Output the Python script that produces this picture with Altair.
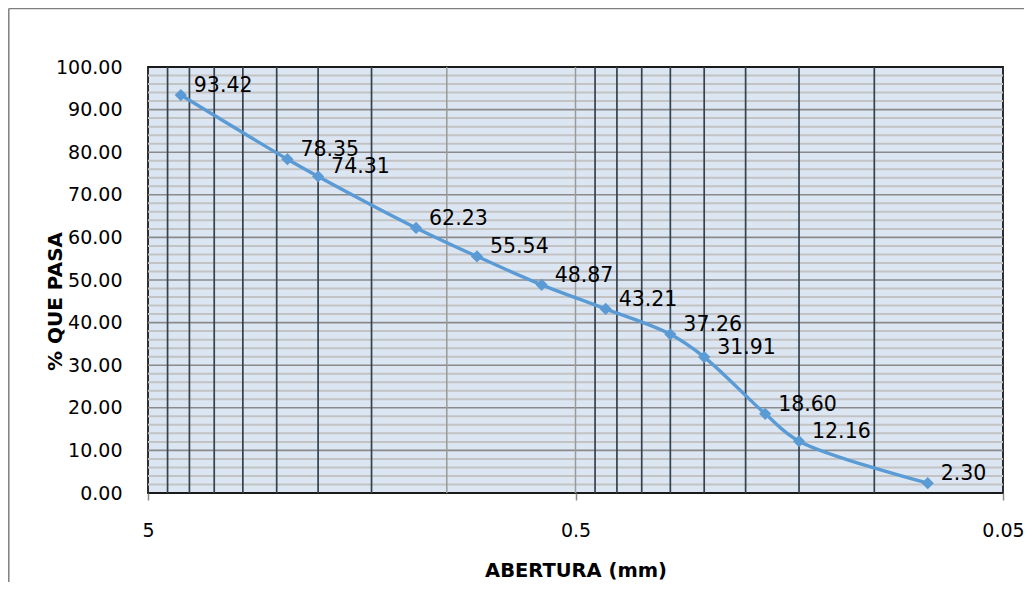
import altair as alt
import pandas as pd

# Data
abertura = [4.19, 2.36, 2.00, 1.18, 0.85, 0.60, 0.425, 0.30, 0.25, 0.18, 0.15, 0.075]
pasa = [93.42, 78.35, 74.31, 62.23, 55.54, 48.87, 43.21, 37.26, 31.91, 18.60, 12.16, 2.30]

x_ticks = [5, 0.5, 0.05]
y_ticks = [0, 10, 20, 30, 40, 50, 60, 70, 80, 90, 100]
y_minor = [v for v in range(2, 100, 2) if v % 10 != 0]
y_major = [10, 20, 30, 40, 50, 60, 70, 80, 90]
x_minor_dark = [4.5, 4.0, 3.5, 3.0, 2.5, 2.0, 1.5, 0.45, 0.40, 0.35, 0.30, 0.25, 0.20, 0.15, 0.10]
x_minor_gray = [1.0, 0.5]

W, H = 855, 426
FONT = "DejaVu Sans"
BOTTOM = 89

df = pd.DataFrame({"d": abertura, "p": pasa, "lbl": [f"{v:.2f}" for v in pasa]})

xs = alt.Scale(type="log", domain=[0.05, 5], reverse=True, nice=False)
ys = alt.Scale(domain=[0, 100], nice=False, zero=False)

xaxis = alt.Axis(
    values=x_ticks, format="~g", title="ABERTURA (mm)", grid=False, domain=False,
    ticks=True, tickSize=7, tickColor="#8a8a8a", tickWidth=1.5,
    labelFont=FONT, labelFontSize=19, labelColor="#000", labelPadding=30,
    labelBaseline="middle", labelFlush=False,
    titleFont=FONT, titleFontSize=19.5, titleFontWeight="bold", titleColor="#000",
    titleX=W / 2, titleY=77, titleBaseline="middle", titleAlign="center")
yaxis = alt.Axis(
    values=y_ticks, format=".2f", title="% QUE PASA", grid=False, domain=False,
    ticks=False, labelFont=FONT, labelFontSize=19, labelColor="#000", labelPadding=26,
    labelFlush=False,
    titleFont=FONT, titleFontSize=20, titleFontWeight="bold", titleColor="#000",
    titleAngle=270, titleX=-93, titleY=234, titleAlign="center", titleBaseline="middle")

hminor = alt.Chart(pd.DataFrame({"y": y_minor})).mark_rule(
    color="#c3c3c3", strokeWidth=2).encode(y=alt.Y("y:Q", scale=ys, axis=yaxis))
hmajor = alt.Chart(pd.DataFrame({"y": y_major})).mark_rule(
    color="#8a8a8a", strokeWidth=1.6).encode(y=alt.Y("y:Q", scale=ys, axis=yaxis))
vgray = alt.Chart(pd.DataFrame({"x": x_minor_gray})).mark_rule(
    color="#9a9a9a", strokeWidth=1.5).encode(x=alt.X("x:Q", scale=xs, axis=xaxis))
vdark = alt.Chart(pd.DataFrame({"x": x_minor_dark})).mark_rule(
    color="#34414f", strokeWidth=1.7).encode(x=alt.X("x:Q", scale=xs, axis=xaxis))

base = alt.Chart(df)
line = base.mark_line(
    color="#5b9bd5", strokeWidth=3.4, interpolate="catmull-rom",
    point=alt.OverlayMarkDef(shape="diamond", size=150, color="#5b9bd5", filled=True, opacity=1),
).encode(
    x=alt.X("d:Q", scale=xs, axis=xaxis),
    y=alt.Y("p:Q", scale=ys, axis=yaxis),
)
labels = base.mark_text(
    align="left", baseline="middle", dx=13, dy=-9, font=FONT, fontSize=20.5, color="#000"
).encode(x=alt.X("d:Q", scale=xs, axis=xaxis), y=alt.Y("p:Q", scale=ys, axis=yaxis), text="lbl:N")

border_left = alt.Chart(pd.DataFrame({"k": [0]})).mark_rule(color="#7f7f7f", strokeWidth=1.5).encode(
    x=alt.value(-139.2), y=alt.value(-58.5), y2=alt.value(H + BOTTOM))
border_top = alt.Chart(pd.DataFrame({"k": [0]})).mark_rule(color="#7f7f7f", strokeWidth=1.5).encode(
    x=alt.value(-139.2), x2=alt.value(W + 21), y=alt.value(-58.5))

chart = alt.layer(
    hminor, hmajor, vgray, vdark, line, labels, border_left, border_top
).properties(
    width=W, height=H,
    autosize=alt.AutoSizeParams(type="none"),
    padding={"left": 140, "top": 59, "right": 21, "bottom": BOTTOM},
).configure_view(
    fill="#dce6f2", stroke="#1a1a1a", strokeWidth=1.8
)

chart.save("out.html", embed_options={"renderer": "svg", "actions": False})
